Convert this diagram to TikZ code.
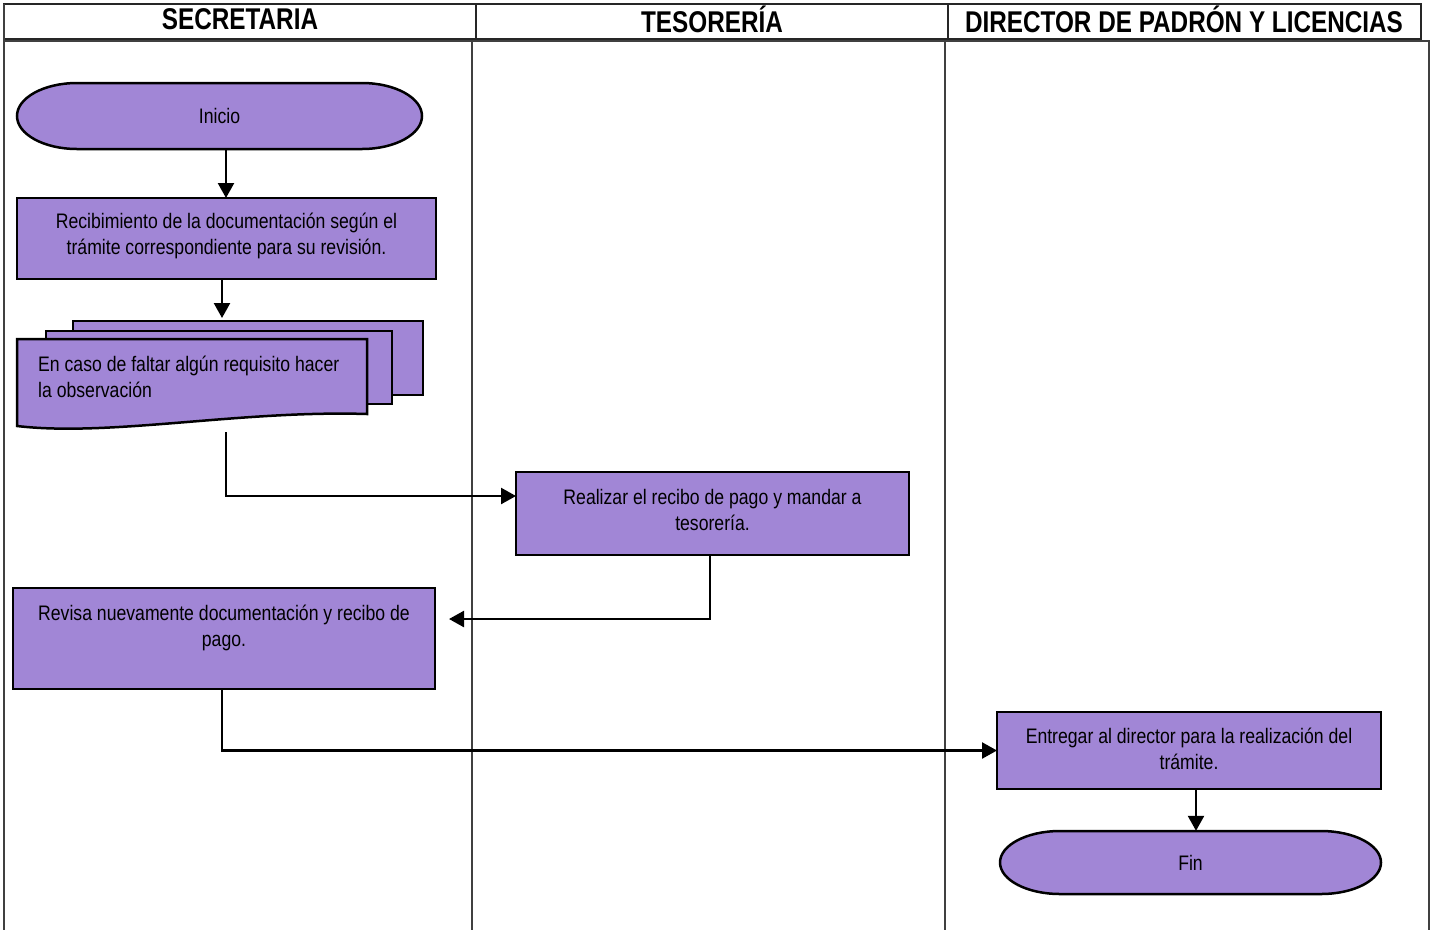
\documentclass[tikz,border=0pt]{standalone}
\usepackage{fontspec}
\setmainfont{Liberation Sans}[FakeStretch=0.84]
\newfontfamily\hdrfont{Liberation Sans}[FakeStretch=0.81]
\usetikzlibrary{arrows.meta,backgrounds,calc}
\definecolor{boxfill}{RGB}{161,134,214}
\begin{document}
\begin{tikzpicture}[x=1pt,y=-1pt,
  lane/.style={draw=black!75, line width=1.5pt},
  hdrline/.style={draw=black!85, line width=1.8pt},
  procbox/.style={draw=black, line width=2.5pt, fill=boxfill, inner sep=0pt, outer sep=0pt},
  boxtext/.style={inner sep=0pt, align=center, font=\fontsize{21}{26.5}\selectfont},
  termshape/.style={draw=black, line width=2.5pt, fill=boxfill},
  arr/.style={line width=2.4pt, -{Triangle[length=15pt,width=16pt]}},
  hdr/.style={font=\hdrfont\bfseries\fontsize{30}{32}\selectfont}]
\useasboundingbox (0,0) rectangle (1432,930);

% header
\draw[hdrline] (4,4) rectangle (1421,39);
\draw[hdrline] (476,4) -- (476,39);
\draw[hdrline] (948,4) -- (948,39);
\node[hdr] (h1) at (240,19.5) {SECRETARIA};
\node[hdr] (h2) at (712,19.5) {TESORERÍA};
\node[hdr] (h3) at (1184,19.5) {DIRECTOR DE PADRÓN Y LICENCIAS};

% lanes
\draw[lane] (4,41) -- (1429,41) -- (1429,930);
\draw[lane] (4,4) -- (4,930);
\draw[lane] (472,41) -- (472,930);
\draw[lane] (945,41) -- (945,930);

% Inicio terminal
\draw[termshape] (77,83) -- (362,83) arc[start angle=90,end angle=-90,x radius=60pt,y radius=33pt]
  -- (77,149) arc[start angle=270,end angle=90,x radius=60pt,y radius=33pt] -- cycle;
\node[boxtext, minimum width=405pt, minimum height=66pt] (ini) at (219.5,116) {Inicio};

% Recibimiento
\node[procbox, minimum width=419pt, minimum height=81pt] (rec) at (226.5,238.5) {};
\node[boxtext] (rect) at (226.5,236) {Recibimiento de la documentación según el\\trámite correspondiente para su revisión.};

% multi-document
\draw[procbox] (73,321) rectangle (423,395);
\draw[procbox] (46,331) rectangle (392,404);
\draw[procbox] (17,339) -- (367,339) -- (367,414)
  .. controls (240,410) and (110,437) .. (17,426) -- cycle;
\node[boxtext, align=left, anchor=west] (doc) at (38,377) {En caso de faltar algún requisito hacer\\la observación};
\coordinate (docin) at (222,318);
\coordinate (docout) at (226,432);
\coordinate (k1) at (226,496);

% Realizar
\node[procbox, minimum width=393pt, minimum height=83pt] (rea) at (712.5,513.5) {};
\node[boxtext] (reat) at (712.5,510) {Realizar el recibo de pago y mandar a\\tesorería.};
\coordinate (revin) at (449,619);

% Revisa
\node[procbox, minimum width=422pt, minimum height=101pt] (rev) at (224,638.5) {};
\node[boxtext] (revt) at (224,628) {Revisa nuevamente documentación y recibo de\\pago.};

% Entregar
\node[procbox, minimum width=384pt, minimum height=77pt] (ent) at (1189,750.5) {};
\node[boxtext] (entt) at (1189,749) {Entregar al director para la realización del\\trámite.};

% Fin terminal
\draw[termshape] (1060,831) -- (1321,831) arc[start angle=90,end angle=-90,x radius=60pt,y radius=31.5pt]
  -- (1060,894) arc[start angle=270,end angle=90,x radius=60pt,y radius=31.5pt] -- cycle;
\node[boxtext, minimum width=381pt, minimum height=63pt] (fin) at (1190.5,862.5) {Fin};

% connectors
\draw[arr] (ini.south -| 226,0) -- (rec.north -| 226,0);
\draw[arr] (rec.south -| docin) -- (docin);
\draw[arr] (docout) -- (k1) -- (k1 -| rea.west);
\draw[arr] (rea.south -| 710,0) |- (revin);
\draw[arr] (rev.south -| 222,0) |- (ent.west);
\draw[arr] (ent.south -| 1196,0) -- (fin.north -| 1196,0);
\end{tikzpicture}
\end{document}
